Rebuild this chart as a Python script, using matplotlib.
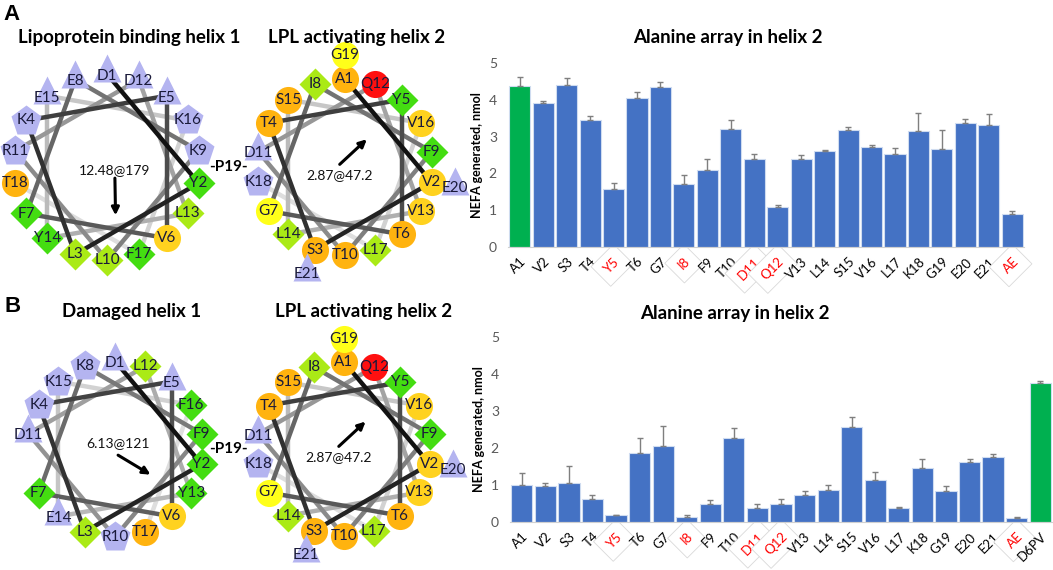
"""
Helical wheels of apoC-II mimetic helices plus alanine scan NEFA bars.
"""

import matplotlib

matplotlib.use("Agg")
import matplotlib.pyplot as plt
import numpy as np

plt.rcParams["font.family"] = ["Lato", "DejaVu Sans"]

W, H = 1053, 570

# ---- helical wheel sequences ----
helix1_seq = list("DYLKEVFEKLRDLYEKFT")
damaged_seq = list("DYLKEVFKFRDLYEKFT")
helix2_seq = list("AVSTYTGIFTDQVLSVLKGEE")
helix2_ring = 18  # residues beyond this sit on the outer ring, not linked

moment_h1 = "12.48@179"
moment_h2 = "2.87@47.2"
moment_dmg = "6.13@121"

# ---- alanine array data ----
labels_a = ["A1", "V2", "S3", "T4", "Y5", "T6", "G7", "I8", "F9", "T10", "D11",
            "Q12", "V13", "L14", "S15", "V16", "L17", "K18", "G19", "E20", "E21", "AE"]
nefa_a = [4.38, 3.91, 4.41, 3.44, 1.58, 4.06, 4.34, 1.71, 2.09, 3.21, 2.39,
          1.09, 2.39, 2.62, 3.18, 2.71, 2.53, 3.16, 2.65, 3.36, 3.32, 0.91]
err_a = [0.25, 0.06, 0.17, 0.12, 0.15, 0.14, 0.15, 0.24, 0.30, 0.23, 0.13,
         0.05, 0.11, 0.02, 0.09, 0.06, 0.15, 0.47, 0.52, 0.11, 0.29, 0.07]

labels_b = labels_a + ["D6PV"]
nefa_b = [1.00, 0.97, 1.06, 0.61, 0.19, 1.86, 2.05, 0.14, 0.50, 2.28, 0.39,
          0.49, 0.73, 0.86, 2.58, 1.14, 0.39, 1.45, 0.84, 1.61, 1.77, 0.10, 3.75]
err_b = [0.32, 0.09, 0.46, 0.12, 0.01, 0.40, 0.54, 0.04, 0.09, 0.27, 0.10,
         0.12, 0.10, 0.14, 0.26, 0.20, 0.02, 0.25, 0.14, 0.08, 0.08, 0.04, 0.05]

red_labels = {"Y5", "I8", "D11", "Q12", "AE"}
green_a = {"A1"}
green_b = {"D6PV"}

LAV = "#b4b4f0"
RES_STYLE = {
    "K": ("p", LAV), "R": ("p", LAV),
    "D": ("^", LAV), "E": ("^", LAV),
    "F": ("D", "#44dd11"), "Y": ("D", "#44dd11"),
    "L": ("D", "#aaea16"), "I": ("D", "#aaea16"),
    "V": ("o", "#ffd21f"), "G": ("o", "#ffff1a"),
    "T": ("o", "#ffb30f"), "S": ("o", "#ffb30f"), "A": ("o", "#ffb30f"),
    "Q": ("o", "#ff1010"),
}
MSIZE = {"p": 22.5, "^": 20.5, "D": 16, "o": 19.5}


def px_rect(x0, y0, x1, y1):
    return [x0 / W, 1 - y1 / H, (x1 - x0) / W, (y1 - y0) / H]


def draw_wheel(fig, cx, cy, R, seq, n_ring, moment, tail, length, label_dy):
    s = 1.5
    ax = fig.add_axes(px_rect(cx - s * R, cy - s * R, cx + s * R, cy + s * R))
    ax.set_xlim(-s, s)
    ax.set_ylim(-s, s)
    ax.axis("off")

    pts = []
    for i, aa in enumerate(seq):
        ang = np.deg2rad(90 - 100 * i)
        r = 1.0 if i < n_ring else 1.27
        pts.append((r * np.cos(ang), r * np.sin(ang)))
    pts = np.array(pts)

    nseg = n_ring - 1
    for i in range(nseg):
        g = 0.07 + 0.80 * (i / (nseg - 1)) ** 0.9
        ax.plot(pts[i:i + 2, 0], pts[i:i + 2, 1], color=str(g), lw=3.2,
                solid_capstyle="butt", zorder=2 + (nseg - i) * 0.01)

    for i, aa in enumerate(seq):
        mk, col = RES_STYLE[aa]
        x, y = pts[i]
        ty = y
        if mk == "^":
            y = y + 0.06
            ty = y - 0.08
        ax.plot(x, y, marker=mk, ms=MSIZE[mk], color=col, mec="none",
                zorder=5, clip_on=False)
        ax.text(x, ty, f"{aa}{i + 1}", ha="center", va="center", fontsize=11,
                color="#1a1a3a", zorder=6)

    # hydrophobic moment arrow, angle measured clockwise from top
    ang = float(moment.split("@")[1])
    d = np.array([np.sin(np.deg2rad(ang)), np.cos(np.deg2rad(ang))])
    t = np.array(tail)
    h = t + length * d
    ax.annotate("", xy=h, xytext=t,
                arrowprops=dict(arrowstyle="-|>", color="black", lw=2.2,
                                mutation_scale=11, shrinkA=0, shrinkB=0),
                zorder=7)
    ax.text(t[0], t[1] + label_dy, moment, ha="center", va="center",
            fontsize=10, color="#111111", zorder=7)
    return ax


def draw_bars(fig, rect, labels, vals, errs, greens):
    ax = fig.add_axes(rect)
    x = np.arange(len(labels))
    colors = ["#00b050" if lab in greens else "#4472c4" for lab in labels]
    ax.bar(x, vals, width=0.9, color=colors, edgecolor="#cfdcf0", lw=0.8,
           zorder=2)
    ax.errorbar(x, vals, yerr=[np.zeros(len(errs)), errs], fmt="none",
                ecolor="#7f7f7f", elinewidth=1, capsize=2.5, capthick=1,
                zorder=3)
    ax.set_xlim(-0.5, len(labels) - 0.5)
    ax.set_ylim(0, 5)
    ax.set_yticks(range(6))
    ax.tick_params(axis="y", length=0, labelsize=10, labelcolor="#595959",
                   pad=8)
    ax.set_xticks(x)
    ax.set_xticklabels(labels, rotation=45, ha="right",
                       rotation_mode="anchor", fontsize=9.5)
    ax.tick_params(axis="x", length=0, pad=6)
    for tl in ax.get_xticklabels():
        if tl.get_text() in red_labels:
            tl.set_color("#ff0000")
            tl.set_bbox(dict(boxstyle="square,pad=0.6", fc="white",
                             ec="#d9d9d9", lw=0.6))
    for side in ("left", "top", "right"):
        ax.spines[side].set_visible(False)
    ax.spines["bottom"].set_color("#d0d0d0")
    ax.set_ylabel("NEFA generated, nmol", fontsize=9, fontweight="bold",
                  labelpad=4)
    ax.patch.set_alpha(0)
    return ax


fig = plt.figure(figsize=(W / 100, H / 100), dpi=100)

# panel A
fig.text(12 / W, 1 - 15 / H, "A", fontsize=16, fontweight="bold",
         family="Liberation Sans", va="center", ha="center")
fig.text(129 / W, 1 - 37 / H, "Lipoprotein binding helix 1", fontsize=13.5,
         fontweight="bold", ha="center", va="center")
fig.text(357 / W, 1 - 37 / H, "LPL activating helix 2", fontsize=13.5,
         fontweight="bold", ha="center", va="center")
fig.text(728 / W, 1 - 37 / H, "Alanine array in helix 2", fontsize=13.5,
         fontweight="bold", ha="center", va="center")

draw_wheel(fig, 107, 167, 93, helix1_seq, len(helix1_seq), moment_h1,
           (0.085, -0.12), 0.40, 0.09)
draw_wheel(fig, 345, 167, 88, helix2_seq, helix2_ring, moment_h2,
           (-0.06, 0.03), 0.42, -0.12)
fig.text(228 / W, 1 - 167 / H, "-P19-", fontsize=11, fontweight="bold",
         ha="center", va="center")

draw_bars(fig, px_rect(508, 63, 1024, 247), labels_a, nefa_a, err_a, green_a)

# panel B
fig.text(13 / W, 1 - 307 / H, "B", fontsize=16, fontweight="bold",
         family="Liberation Sans", va="center", ha="center")
fig.text(132 / W, 1 - 312 / H, "Damaged helix 1", fontsize=13.5,
         fontweight="bold", ha="center", va="center")
fig.text(364 / W, 1 - 311 / H, "LPL activating helix 2", fontsize=13.5,
         fontweight="bold", ha="center", va="center")
fig.text(735 / W, 1 - 313 / H, "Alanine array in helix 2", fontsize=13.5,
         fontweight="bold", ha="center", va="center")

draw_wheel(fig, 115, 449, 88, damaged_seq, len(damaged_seq), moment_dmg,
           (0.035, -0.07), 0.43, 0.14)
draw_wheel(fig, 344, 449, 87, helix2_seq, helix2_ring, moment_h2,
           (-0.06, 0.03), 0.42, -0.12)
fig.text(228 / W, 1 - 449 / H, "-P19-", fontsize=11, fontweight="bold",
         ha="center", va="center")

draw_bars(fig, px_rect(510, 337, 1052, 522), labels_b, nefa_b, err_b, green_b)

fig.savefig("out.png", dpi=100)
